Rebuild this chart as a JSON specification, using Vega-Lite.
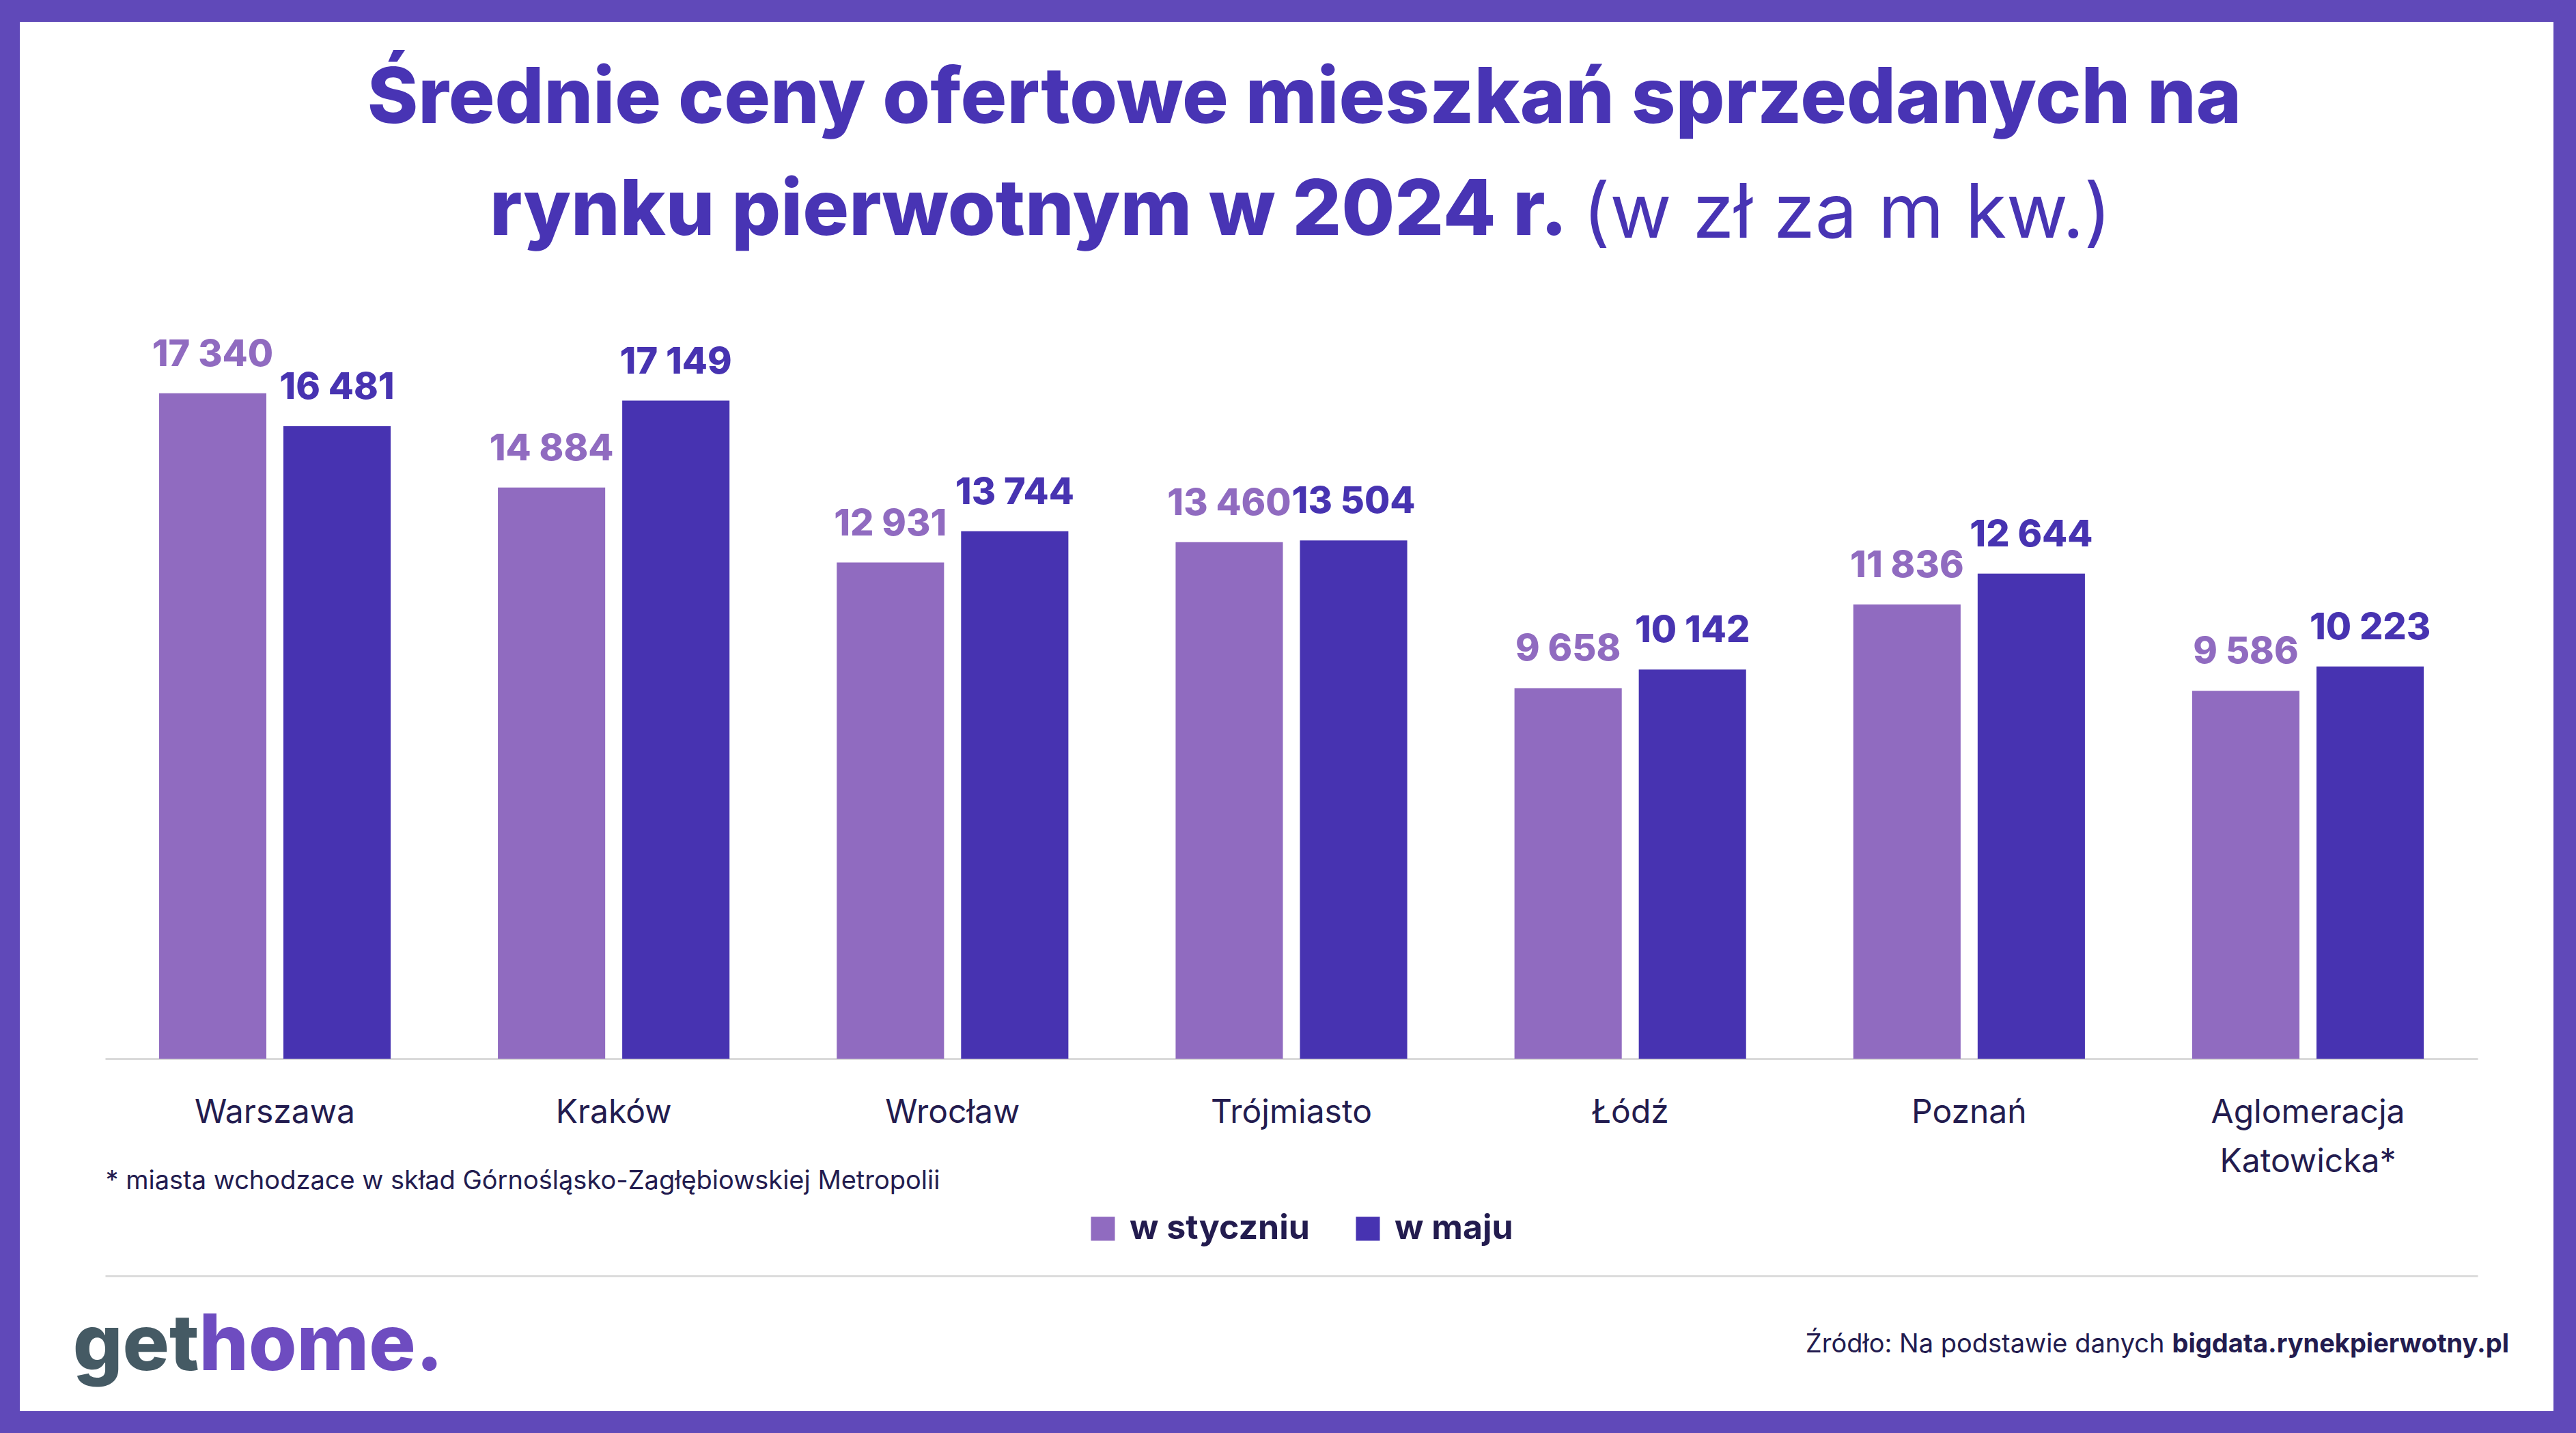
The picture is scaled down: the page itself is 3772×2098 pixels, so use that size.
{
  "$schema": "https://vega.github.io/schema/vega-lite/v6.json",
  "width": 3710,
  "height": 2034,
  "autosize": {"type": "none"},
  "padding": {"left": 29, "top": 32, "right": 33, "bottom": 32},
  "background": "#6049b9",
  "config": {
    "view": {"fill": "#ffffff", "stroke": null},
    "font": "Inter",
    "locale": {"number": {"decimal": ",", "thousands": " ", "grouping": [3], "currency": ["", " zł"]}}
  },
  "title": {
    "text": ["Średnie ceny ofertowe mieszkań sprzedanych na", "rynku pierwotnym w 2024 r.\u2003\u2003\u2003\u2003\u2003\u2003\u2003\u2009\u200b"],
    "fontSize": 113,
    "fontWeight": 800,
    "font": "Inter",
    "color": "#4834b4",
    "lineHeight": 164,
    "anchor": "middle",
    "frame": "group",
    "offset": -336,
    "dx": 26
  },
  "data": {
    "values": [
      {"miasto": "Warszawa", "okres": "w styczniu", "cena": 17340},
      {"miasto": "Warszawa", "okres": "w maju", "cena": 16481},
      {"miasto": "Kraków", "okres": "w styczniu", "cena": 14884},
      {"miasto": "Kraków", "okres": "w maju", "cena": 17149},
      {"miasto": "Wrocław", "okres": "w styczniu", "cena": 12931},
      {"miasto": "Wrocław", "okres": "w maju", "cena": 13744},
      {"miasto": "Trójmiasto", "okres": "w styczniu", "cena": 13460},
      {"miasto": "Trójmiasto", "okres": "w maju", "cena": 13504},
      {"miasto": "Łódź", "okres": "w styczniu", "cena": 9658},
      {"miasto": "Łódź", "okres": "w maju", "cena": 10142},
      {"miasto": "Poznań", "okres": "w styczniu", "cena": 11836},
      {"miasto": "Poznań", "okres": "w maju", "cena": 12644},
      {"miasto": "Aglomeracja Katowicka*", "okres": "w styczniu", "cena": 9586},
      {"miasto": "Aglomeracja Katowicka*", "okres": "w maju", "cena": 10223}
    ]
  },
  "layer": [
    {
      "mark": {"type": "bar"},
      "encoding": {
        "x": {
          "field": "miasto", "type": "nominal",
          "sort": ["Warszawa", "Kraków", "Wrocław", "Trójmiasto", "Łódź", "Poznań", "Aglomeracja Katowicka*"],
          "scale": {"range": [125, 3599], "paddingInner": 0.3165, "paddingOuter": 0.159},
          "axis": {
            "orient": "bottom",
            "offset": -516,
            "ticks": false,
            "tickSize": 0,
            "grid": false,
            "domain": true,
            "domainColor": "#dadada",
            "domainWidth": 3,
            "labelAngle": 0,
            "labelFont": "Inter",
            "labelFontSize": 48,
            "labelColor": "#231c4f",
            "labelBaseline": "alphabetic",
            "labelPadding": 93,
            "labelLineHeight": 72,
            "labelLimit": 0,
            "labelOverlap": false,
            "labelExpr": "datum.value == 'Aglomeracja Katowicka*' ? ['Aglomeracja', 'Katowicka*'] : datum.value",
            "title": "* miasta wchodzace w skład Górnośląsko-Zagłębiowskiej Metropolii",
            "titleX": 125,
            "titleY": 190,
            "titleAlign": "left",
            "titleBaseline": "alphabetic",
            "titleFont": "Inter",
            "titleFontSize": 38,
            "titleFontWeight": "normal",
            "titleColor": "#231c4f",
            "titleLimit": 0
          }
        },
        "xOffset": {"field": "okres", "type": "nominal", "sort": ["w styczniu", "w maju"], "scale": {"paddingInner": 0.137, "paddingOuter": 0}},
        "y": {
          "field": "cena", "type": "quantitative",
          "scale": {"domain": [-9185, 27020], "nice": false},
          "axis": {
            "orient": "left",
            "values": [-5660, -8117],
            "grid": true,
            "gridColor": {"condition": {"test": "datum.value == -5660", "value": "#dcdcdc"}, "value": "rgba(0,0,0,0)"},
            "gridWidth": 3,
            "domain": false,
            "ticks": false,
            "tickSize": 0,
            "labelExpr": "datum.value == -8117 ? 'get' : ''",
            "labelAlign": "right",
            "labelBaseline": "alphabetic",
            "labelPadding": -262,
            "labelFont": "Inter",
            "labelFontSize": 114,
            "labelFontWeight": 800,
            "labelColor": "#455a64",
            "labelOverlap": false,
            "labelLimit": 0,
            "title": "Źródło: Na podstawie danych",
            "titleX": 3140,
            "titleY": 1947,
            "titleAngle": 0,
            "titleAlign": "right",
            "titleBaseline": "alphabetic",
            "titleFont": "Inter",
            "titleFontSize": 38,
            "titleFontWeight": "normal",
            "titleColor": "#231c4f",
            "titleLimit": 0
          }
        },
        "color": {
          "field": "okres", "type": "nominal",
          "scale": {"domain": ["w styczniu", "w maju"], "range": ["#906bc0", "#4733b1"]},
          "legend": {
            "orient": "none",
            "legendX": 1561,
            "legendY": 1742,
            "direction": "horizontal",
            "title": null,
            "symbolType": "square",
            "symbolSize": 1225,
            "symbolStrokeWidth": 0,
            "symbolOpacity": 1,
            "labelFont": "Inter",
            "labelFontSize": 50,
            "labelFontWeight": "bold",
            "labelColor": "#231c4f",
            "labelOffset": 14,
            "columnPadding": 60,
            "labelLimit": 0
          }
        }
      }
    },
    {
      "mark": {"type": "text", "baseline": "alphabetic", "align": "center", "dy": -40, "fontSize": 54, "fontWeight": 800, "font": "Inter"},
      "encoding": {
        "x": {
          "field": "miasto", "type": "nominal",
          "sort": ["Warszawa", "Kraków", "Wrocław", "Trójmiasto", "Łódź", "Poznań", "Aglomeracja Katowicka*"],
          "axis": {
            "orient": "top",
            "labels": false,
            "ticks": false,
            "domain": false,
            "grid": false,
            "title": "(w zł za m kw.)",
            "titleX": 2288,
            "titleY": 315,
            "titleAlign": "left",
            "titleBaseline": "alphabetic",
            "titleFont": "Inter",
            "titleFontSize": 110,
            "titleFontWeight": "normal",
            "titleColor": "#4834b4",
            "titleLimit": 0
          }
        },
        "xOffset": {"field": "okres", "type": "nominal", "sort": ["w styczniu", "w maju"]},
        "y": {
          "field": "cena", "type": "quantitative",
          "axis": {
            "orient": "right",
            "values": [-8117],
            "grid": false,
            "domain": false,
            "ticks": false,
            "tickSize": 0,
            "labelExpr": "'home.'",
            "labelAlign": "left",
            "labelBaseline": "alphabetic",
            "labelPadding": -3448,
            "labelFont": "Inter",
            "labelFontSize": 114,
            "labelFontWeight": 800,
            "labelColor": "#6e4cc0",
            "labelOverlap": false,
            "labelLimit": 0,
            "title": "bigdata.rynekpierwotny.pl",
            "titleX": -559,
            "titleY": 1947,
            "titleAngle": 0,
            "titleAlign": "left",
            "titleBaseline": "alphabetic",
            "titleFont": "Inter",
            "titleFontSize": 38,
            "titleFontWeight": "bold",
            "titleColor": "#231c4f",
            "titleLimit": 0
          }
        },
        "text": {"field": "cena", "type": "quantitative", "format": ",d"},
        "color": {"field": "okres", "type": "nominal"}
      }
    }
  ],
  "resolve": {"axis": {"x": "independent", "y": "independent"}}
}
